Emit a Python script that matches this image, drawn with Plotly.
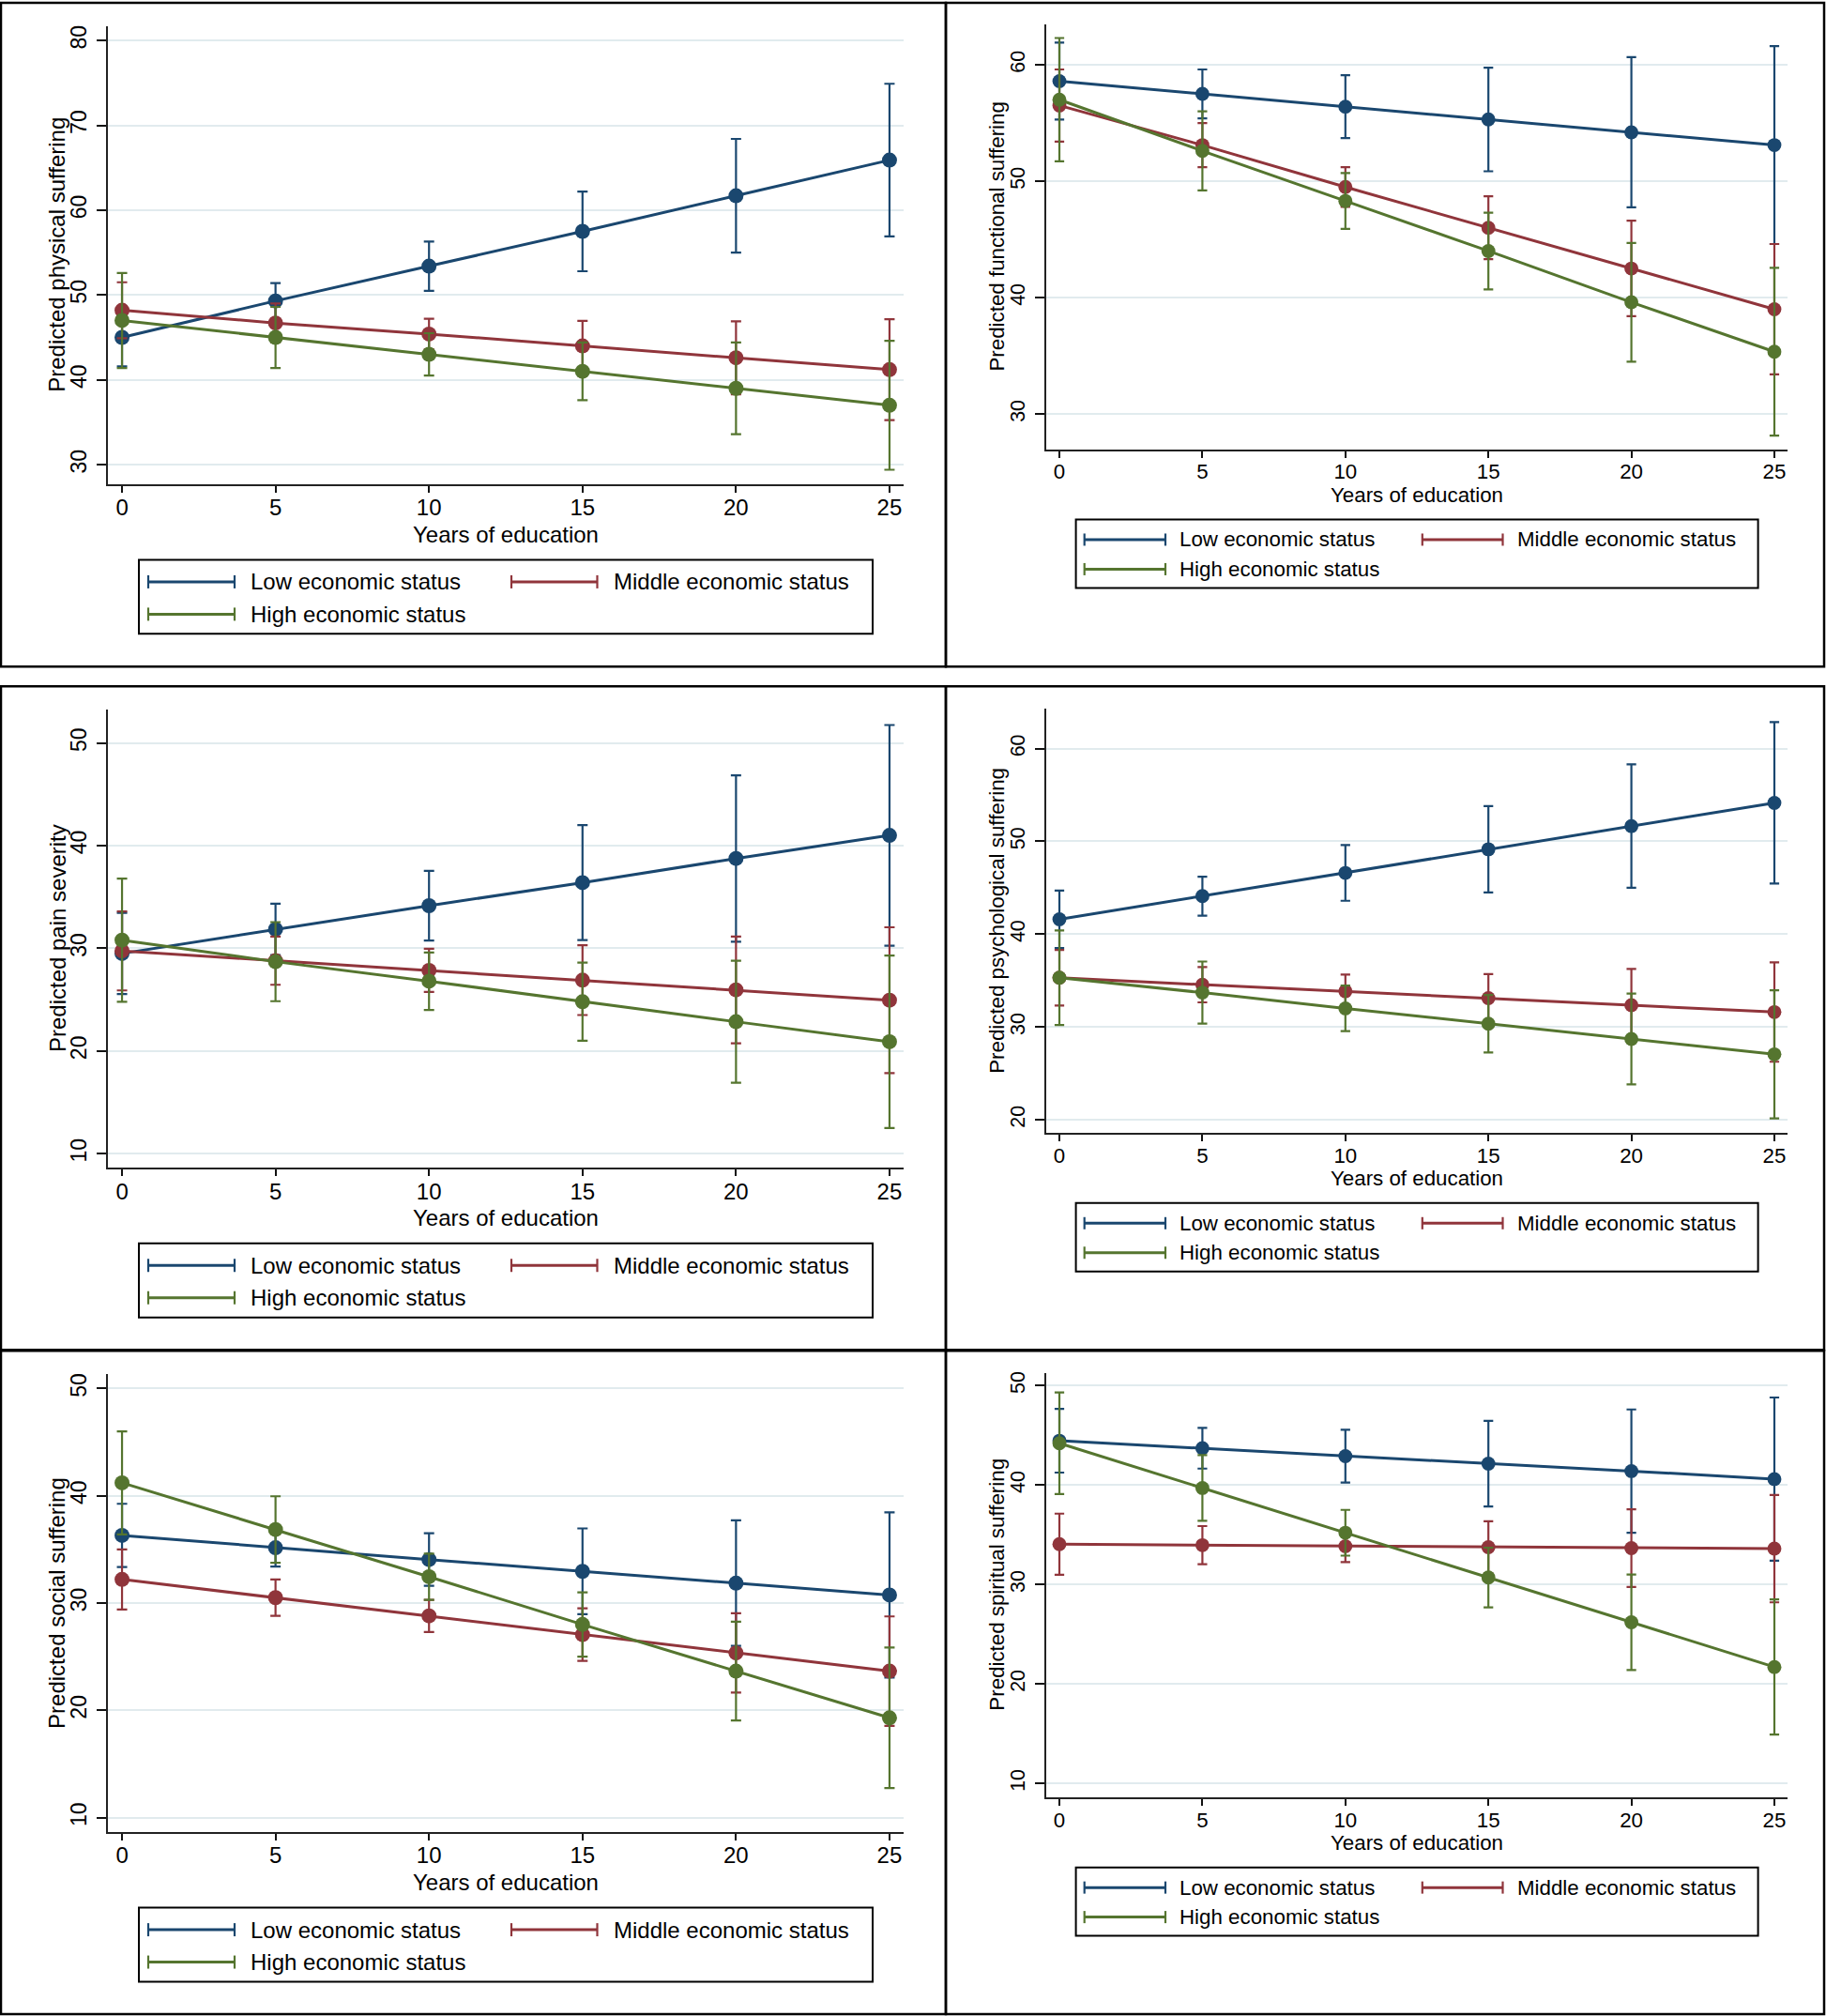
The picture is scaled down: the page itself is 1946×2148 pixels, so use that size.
import plotly.graph_objects as go

# ---------------- data ----------------
years = [0, 5, 10, 15, 20, 25]
x_ticks = [0, 5, 10, 15, 20, 25]
series_names = ["Low economic status", "Middle economic status", "High economic status"]
series_colors = ["#1a476f", "#90353b", "#55752f"]

# Physical suffering
physical_low = [45.0, 49.3, 53.4, 57.5, 61.7, 65.9]
physical_low_ci = [3.4, 2.1, 2.9, 4.7, 6.7, 9.0]
physical_mid = [48.2, 46.7, 45.4, 44.0, 42.6, 41.2]
physical_mid_ci = [3.3, 2.3, 1.8, 2.95, 4.3, 5.95]
physical_high = [47.0, 45.0, 43.0, 41.0, 39.0, 37.0]
physical_high_ci = [5.6, 3.6, 2.5, 3.4, 5.4, 7.6]
physical_ticks = [30, 40, 50, 60, 70, 80]

# Functional suffering
functional_low = [58.6, 57.5, 56.4, 55.3, 54.2, 53.1]
functional_low_ci = [3.3, 2.1, 2.7, 4.45, 6.45, 8.5]
functional_mid = [56.5, 53.1, 49.5, 46.0, 42.5, 39.0]
functional_mid_ci = [3.1, 1.9, 1.7, 2.7, 4.1, 5.6]
functional_high = [57.0, 52.6, 48.3, 44.0, 39.6, 35.35]
functional_high_ci = [5.3, 3.4, 2.4, 3.3, 5.1, 7.2]
functional_ticks = [30, 40, 50, 60]

# Pain severity
pain_low = [29.5, 31.85, 34.15, 36.4, 38.75, 41.0]
pain_low_ci = [3.95, 2.5, 3.4, 5.6, 8.1, 10.75]
pain_mid = [29.75, 28.8, 27.85, 26.9, 25.95, 24.95]
pain_mid_ci = [3.85, 2.35, 2.1, 3.4, 5.2, 7.1]
pain_high = [30.8, 28.7, 26.8, 24.8, 22.85, 20.9]
pain_high_ci = [6.0, 3.85, 2.8, 3.8, 5.95, 8.4]
pain_ticks = [10, 20, 30, 40, 50]

# Psychological suffering
psych_low = [41.6, 44.1, 46.6, 49.15, 51.65, 54.15]
psych_low_ci = [3.1, 2.1, 3.0, 4.65, 6.65, 8.7]
psych_mid = [35.3, 34.55, 33.85, 33.1, 32.35, 31.6]
psych_mid_ci = [3.0, 1.9, 1.8, 2.6, 3.9, 5.35]
psych_high = [35.3, 33.7, 32.0, 30.35, 28.7, 27.05]
psych_high_ci = [5.1, 3.35, 2.45, 3.1, 4.9, 6.9]
psych_ticks = [20, 30, 40, 50, 60]

# Social suffering
social_low = [36.3, 35.15, 34.05, 32.95, 31.85, 30.75]
social_low_ci = [2.95, 1.75, 2.45, 4.0, 5.85, 7.7]
social_mid = [32.2, 30.5, 28.8, 27.05, 25.35, 23.65]
social_mid_ci = [2.8, 1.7, 1.5, 2.45, 3.7, 5.1]
social_high = [41.2, 36.85, 32.45, 28.0, 23.65, 19.3]
social_high_ci = [4.8, 3.1, 2.15, 3.0, 4.6, 6.55]
social_ticks = [10, 20, 30, 40, 50]

# Spiritual suffering
spiritual_low = [44.45, 43.7, 42.9, 42.15, 41.4, 40.6]
spiritual_low_ci = [3.2, 2.05, 2.65, 4.3, 6.2, 8.2]
spiritual_mid = [34.05, 33.95, 33.85, 33.75, 33.65, 33.6]
spiritual_mid_ci = [3.07, 1.92, 1.6, 2.6, 3.9, 5.4]
spiritual_high = [44.2, 39.7, 35.2, 30.7, 26.2, 21.7]
spiritual_high_ci = [5.1, 3.3, 2.3, 3.0, 4.8, 6.8]
spiritual_ticks = [10, 20, 30, 40, 50]

panels = [
    dict(title="Predicted physical suffering", series=[physical_low, physical_mid, physical_high],
         cis=[physical_low_ci, physical_mid_ci, physical_high_ci], ticks=physical_ticks,
         yrange=[27.74, 81.68], col=0, top=0),
    dict(title="Predicted functional suffering", series=[functional_low, functional_mid, functional_high],
         cis=[functional_low_ci, functional_mid_ci, functional_high_ci], ticks=functional_ticks,
         yrange=[26.98, 63.43], col=1, top=0),
    dict(title="Predicted pain severity", series=[pain_low, pain_mid, pain_high],
         cis=[pain_low_ci, pain_mid_ci, pain_high_ci], ticks=pain_ticks,
         yrange=[8.66, 53.23], col=0, top=729),
    dict(title="Predicted psychological suffering", series=[psych_low, psych_mid, psych_high],
         cis=[psych_low_ci, psych_mid_ci, psych_high_ci], ticks=psych_ticks,
         yrange=[18.6, 64.33], col=1, top=729),
    dict(title="Predicted social suffering", series=[social_low, social_mid, social_high],
         cis=[social_low_ci, social_mid_ci, social_high_ci], ticks=social_ticks,
         yrange=[8.68, 51.33], col=0, top=1437.5),
    dict(title="Predicted spiritual suffering", series=[spiritual_low, spiritual_mid, spiritual_high],
         cis=[spiritual_low_ci, spiritual_mid_ci, spiritual_high_ci], ticks=spiritual_ticks,
         yrange=[8.62, 51.29], col=1, top=1437.5),
]

# ---------------- layout geometry (pixels) ----------------
W, H = 1946, 2148
FONT = "Liberation Sans, Arial, Helvetica, sans-serif"

cols = [
    dict(px0=115, px1=963, pt=26, pb=514, lx0=148, lx1=930, lt=595, lb=674,
         s=1.0, frame_x0=1, frame_x1=1008, ytitle_off=54, xtitle_off=54,
         row1=23.5, row2=58, sym1=(158, 250), txt1=265, sym2=(545, 636.5), txt2=652),
    dict(px0=1115, px1=1905, pt=24.5, pb=477, lx0=1146.6, lx1=1873.6, lt=552, lb=625,
         s=0.93, frame_x0=1008, frame_x1=1944, ytitle_off=52, xtitle_off=49,
         row1=21.5, row2=53, sym1=(1155.7, 1242), txt1=1254.6, sym2=(1515.8, 1601.5), txt2=1614.8),
]
row_heights = {0: 709, 729: 708.5, 1437.5: 708.5}


def px(x):
    return x / W


def py(y):
    return 1 - y / H


fig = go.Figure()
shapes = []
annotations = []
layout_axes = {}

for i, p in enumerate(panels):
    n = "" if i == 0 else str(i + 1)
    c = cols[p["col"]]
    s = c["s"]
    top = p["top"]
    xa, ya = "x" + n, "y" + n

    for name, vals, ci, color in zip(series_names, p["series"], p["cis"], series_colors):
        fig.add_trace(go.Scatter(
            x=years, y=vals, mode="lines+markers", name=name, showlegend=False,
            xaxis=xa, yaxis=ya,
            line=dict(color=color, width=3),
            marker=dict(color=color, size=16 * s, symbol="circle"),
            error_y=dict(type="data", array=ci, symmetric=True, color=color,
                         thickness=2.2, width=5.5 * s),
            hoverinfo="x+y+name",
        ))

    layout_axes["xaxis" + n] = dict(
        domain=[px(c["px0"]), px(c["px1"])], anchor=ya, range=[-0.46, 25.46],
        tickvals=x_ticks, ticks="outside", ticklen=7, tickwidth=2, tickcolor="#111",
        showline=True, linecolor="#222", linewidth=2, showgrid=False, zeroline=False,
        tickfont=dict(family=FONT, size=24 * s, color="#000"), ticklabelstandoff=-4,
    )
    layout_axes["yaxis" + n] = dict(
        domain=[py(top + c["pb"]), py(top + c["pt"])], anchor=xa, range=p["yrange"],
        tickvals=p["ticks"], ticks="outside", ticklen=10, tickwidth=2, tickcolor="#111",
        showline=True, linecolor="#222", linewidth=2,
        showgrid=True, gridcolor="#e1ebee", gridwidth=1.5, zeroline=False,
        tickangle=-90, tickfont=dict(family=FONT, size=23 * s, color="#000"),
        ticklabelstandoff=2,
    )

    # axis titles
    annotations.append(dict(
        text="Years of education", xref="paper", yref="paper",
        x=px((c["px0"] + c["px1"]) / 2), y=py(top + c["pb"] + c["xtitle_off"]),
        xanchor="center", yanchor="middle", showarrow=False,
        font=dict(family=FONT, size=24 * s, color="#000")))
    annotations.append(dict(
        text=p["title"], xref="paper", yref="paper", textangle=-90,
        x=px(c["px0"] - c["ytitle_off"]), y=py(top + (c["pt"] + c["pb"]) / 2),
        xanchor="center", yanchor="middle", showarrow=False,
        font=dict(family=FONT, size=24 * s, color="#000")))

    # panel frame
    shapes.append(dict(type="rect", xref="paper", yref="paper",
                       x0=px(c["frame_x0"]), x1=px(c["frame_x1"]),
                       y0=py(top + row_heights[top]), y1=py(top + 1),
                       line=dict(color="#000", width=2.5), fillcolor="rgba(0,0,0,0)"))

    # legend box
    shapes.append(dict(type="rect", xref="paper", yref="paper",
                       x0=px(c["lx0"]), x1=px(c["lx1"]),
                       y0=py(top + c["lb"]), y1=py(top + c["lt"]),
                       line=dict(color="#000", width=2), fillcolor="rgba(0,0,0,0)"))
    slots = [(c["sym1"], c["txt1"], c["row1"]), (c["sym2"], c["txt2"], c["row1"]),
             (c["sym1"], c["txt1"], c["row2"])]
    for (sym, tx, ry), name, color in zip(slots, series_names, series_colors):
        yy = top + c["lt"] + ry
        cap = 7 * s
        shapes.append(dict(type="line", xref="paper", yref="paper",
                           x0=px(sym[0]), x1=px(sym[1]), y0=py(yy), y1=py(yy),
                           line=dict(color=color, width=3)))
        for sx in sym:
            shapes.append(dict(type="line", xref="paper", yref="paper",
                               x0=px(sx), x1=px(sx), y0=py(yy - cap), y1=py(yy + cap),
                               line=dict(color=color, width=2.2)))
        annotations.append(dict(
            text=name, xref="paper", yref="paper", x=px(tx), y=py(yy),
            xanchor="left", yanchor="middle", showarrow=False,
            font=dict(family=FONT, size=24 * s, color="#000")))

fig.update_layout(
    width=W, height=H, autosize=False,
    margin=dict(l=0, r=0, t=0, b=0),
    paper_bgcolor="white", plot_bgcolor="white",
    showlegend=False,
    shapes=shapes, annotations=annotations,
    **layout_axes,
)

fig.write_html("out.html", config={"displayModeBar": False},
               post_script="document.body.style.margin='0';document.body.style.overflow='hidden';")
